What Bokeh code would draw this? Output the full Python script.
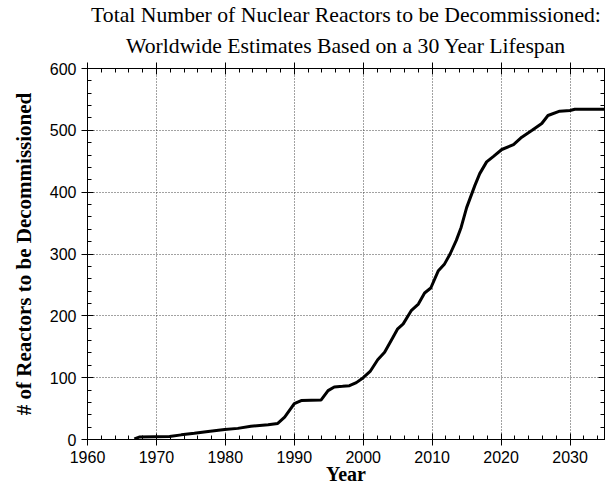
from bokeh.plotting import figure
from bokeh.models import LinearAxis, Range1d, Title, SingleIntervalTicker
from bokeh.embed import file_html
from bokeh.resources import INLINE

years = [1966.8, 1967.5, 1971.9, 1973.6, 1975.5, 1977.5, 1979.9, 1981.8, 1983.7,
         1986.2, 1987.6, 1988.6, 1990.0, 1991.0, 1993.9, 1994.9, 1995.8, 1997.0,
         1998.0, 1999.0, 2000.0, 2001.0, 2002.1, 2003.1, 2004.3, 2005.0, 2005.8,
         2007.0, 2008.0, 2008.9, 2009.8, 2010.9, 2011.8, 2012.6, 2013.5, 2014.2,
         2015.0, 2016.2, 2016.9, 2017.9, 2018.9, 2020.1, 2021.8, 2023.0, 2024.5,
         2025.9, 2026.8, 2028.5, 2030.0, 2030.7, 2035.0]
reactors = [1, 4, 5, 7.5, 10, 13, 16, 18, 21.5, 24, 26, 36, 58, 63, 64, 79, 85, 86,
            87, 92, 100, 110, 129, 141, 165, 179, 187, 209, 219, 237, 245, 273, 284,
            300, 322, 343, 375, 411, 430, 449, 458, 469, 477, 489, 500, 511, 524,
            531, 532, 534, 534]

title_lines = ["Total Number of Nuclear Reactors to be Decommissioned:",
               "Worldwide Estimates Based on a 30 Year Lifespan"]
x_label = "Year"
y_label = "# of Reactors to be Decommissioned"

SERIF = "Liberation Serif"
SANS = "Liberation Sans"

p = figure(width=608, height=487, output_backend="svg", toolbar_location=None,
           x_range=Range1d(1960, 2035), y_range=Range1d(0, 600),
           min_border_left=87, min_border_right=4, min_border_top=68,
           min_border_bottom=48, background_fill_color="white",
           border_fill_color="white")
p.title = None

p.outline_line_color = "black"
p.outline_line_width = 1

xt = SingleIntervalTicker(interval=10, num_minor_ticks=5)
yt = SingleIntervalTicker(interval=100, num_minor_ticks=5)

for ax in (p.xaxis[0], p.yaxis[0]):
    ax.axis_line_color = "black"
    ax.major_tick_line_color = "black"
    ax.minor_tick_line_color = "black"
    ax.major_tick_in = 6
    ax.major_tick_out = 6
    ax.minor_tick_in = 4
    ax.minor_tick_out = 0
    ax.major_label_text_font = SANS
    ax.major_label_text_font_size = "16px"
    ax.major_label_text_color = "black"
    ax.axis_label_text_font = SERIF
    ax.axis_label_text_font_style = "bold"
    ax.axis_label_text_color = "black"

p.xaxis[0].axis_label_text_font_size = "20px"
p.yaxis[0].axis_label_text_font_size = "21px"
p.xaxis[0].ticker = xt
p.yaxis[0].ticker = yt
p.xaxis[0].axis_label = x_label
p.yaxis[0].axis_label = y_label
p.xaxis[0].major_label_standoff = 5
p.xaxis[0].axis_label_standoff = -3
p.yaxis[0].major_label_standoff = 5
p.yaxis[0].axis_label_standoff = 11

top = LinearAxis(ticker=SingleIntervalTicker(interval=10, num_minor_ticks=5))
right = LinearAxis(ticker=SingleIntervalTicker(interval=100, num_minor_ticks=5))
for ax in (top, right):
    ax.axis_line_color = "black"
    ax.major_tick_line_color = "black"
    ax.minor_tick_line_color = "black"
    ax.major_tick_in = 6
    ax.major_tick_out = 0
    ax.minor_tick_in = 4
    ax.minor_tick_out = 0
    ax.major_label_text_font_size = "0px"
    ax.major_label_text_color = None
    ax.major_label_standoff = 0
top.major_tick_out = 6
p.add_layout(top, "above")
p.add_layout(right, "right")

t1 = Title(text=title_lines[1], align="center", text_font=SERIF,
           text_font_style="normal", text_font_size="21.7px", text_color="black",
           text_line_height=1.0, standoff=10)
t0 = Title(text=title_lines[0], align="center", text_font=SERIF,
           text_font_style="normal", text_font_size="21.7px", text_color="black",
           text_line_height=0.8, standoff=0)
p.add_layout(t1, "above")
p.add_layout(t0, "above")

p.xgrid.ticker = xt
p.ygrid.ticker = yt
for g in (p.xgrid, p.ygrid):
    g.grid_line_color = "#444444"
    g.grid_line_dash = "1 2"
    g.grid_line_width = 1

p.line(years, reactors, line_color="black", line_width=3)

open("out.html", "w").write(file_html(p, INLINE))
